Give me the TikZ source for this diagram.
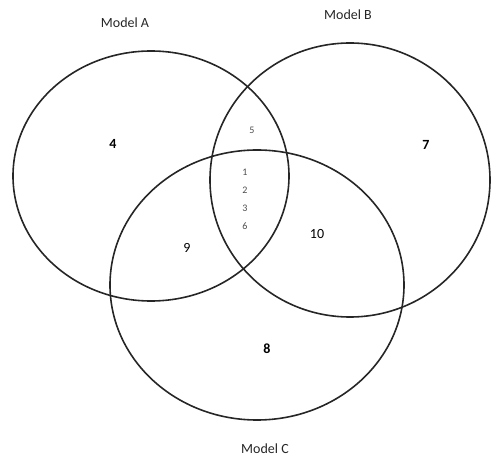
\documentclass[tikz,border=0pt]{standalone}
\usepackage{fontspec}
\setmainfont{Carlito}
\usetikzlibrary{positioning}

\tikzset{
  set/.style={line width=1.6pt, draw=black!85},
  title/.style={font=\fontsize{14}{16}\selectfont, text=black!85},
  count/.style={font=\fontsize{14}{16}\selectfont\bfseries},
  plain count/.style={font=\fontsize{14}{16}\selectfont},
  inner count/.style={font=\fontsize{10}{12}\selectfont, text=black!70},
}

\begin{document}
\begin{tikzpicture}[x=1pt, y=1pt, node distance=18pt, on grid]
  \useasboundingbox (0,0) rectangle (491,456);

  % the three sets
  \draw[set] (151,280) ellipse [x radius=138, y radius=125];
  \draw[set] (350,276) ellipse [x radius=140, y radius=137];
  \draw[set] (257,171) ellipse [x radius=147, y radius=135];

  \node[title] (mA) at (125,433) {Model A};
  \node[title] (mB) at (348,441) {Model B};
  \node[title] (mC) at (265,7) {Model C};

  \node[count] (onlyA) at (113,312) {4};
  \node[count] (onlyB) at (426,311) {7};
  \node[count] (onlyC) at (267,107) {8};
  \node[plain count] (AC) at (187,208) {9};
  \node[plain count] (BC) at (317,222) {10};
  \node[inner count] (AB) at (252,326) {5};

  \node[inner count] (abc1) at (245,284) {1};
  \node[inner count] (abc2) [below=of abc1] {2};
  \node[inner count] (abc3) [below=of abc2] {3};
  \node[inner count] (abc6) [below=of abc3] {6};
\end{tikzpicture}
\end{document}
